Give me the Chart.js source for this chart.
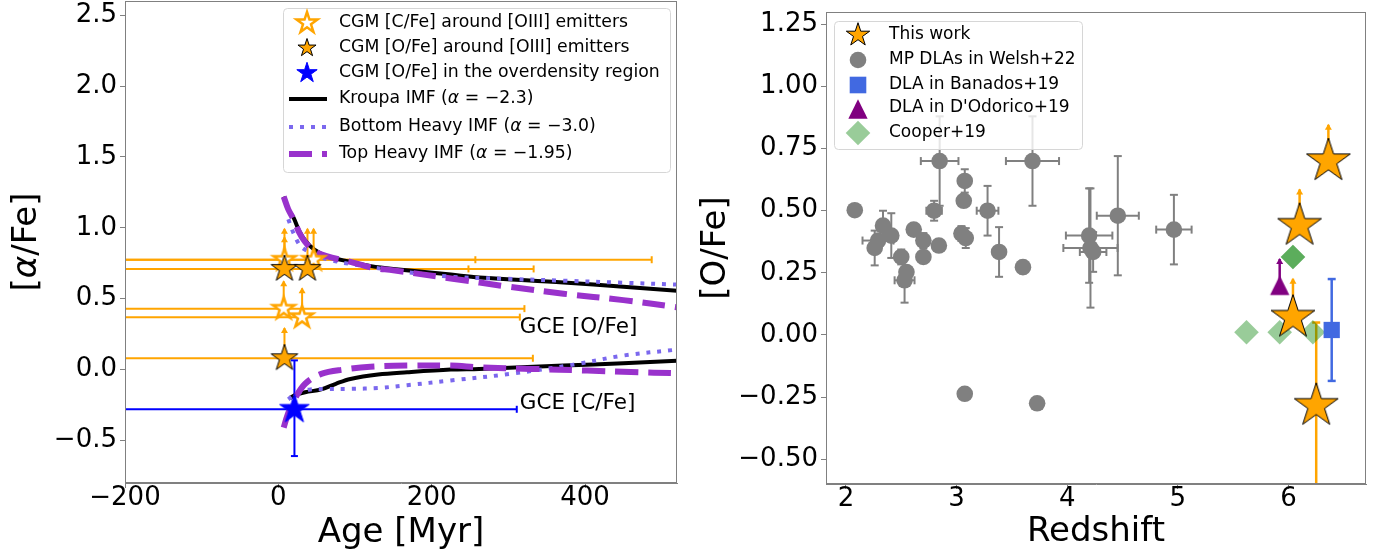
<!DOCTYPE html>
<html><head><meta charset="utf-8">
<script src="https://cdn.jsdelivr.net/npm/chart.js@4.4.1/dist/chart.umd.min.js"></script>
<style>
html,body{margin:0;padding:0;background:#fff;overflow:hidden}
#wrap{position:relative;width:1383px;height:554px;background:#fff}
canvas{position:absolute;top:0}
#c1{left:0}
#c2{left:690px}
</style></head><body>
<div id="wrap">
<canvas id="c1" width="690" height="554" style="width:690px;height:554px"></canvas>
<canvas id="c2" width="693" height="554" style="width:693px;height:554px"></canvas>
</div>
<script>
// ================= LEFT PANEL DATA =================
const ageTicks = [-200, 0, 200, 400];
const alphaFeTicks = [-0.5, 0.0, 0.5, 1.0, 1.5, 2.0, 2.5];

// GCE model tracks, [O/Fe]
const kroupaOAge = [7, 13, 20, 27, 35, 46, 63, 94, 121, 150, 225, 262, 372, 450, 520];
const kroupaOFe  = [1.22, 1.13, 1.07, 0.98, 0.91, 0.85, 0.80, 0.76, 0.73, 0.71, 0.67, 0.65, 0.615, 0.585, 0.556];
const bottomOAge = [13, 20, 29, 40, 51, 70, 94, 150, 225, 300, 372, 450, 520];
const bottomOFe  = [1.06, 0.96, 0.87, 0.83, 0.80, 0.77, 0.745, 0.70, 0.655, 0.64, 0.627, 0.613, 0.60];
const topOAge = [7, 13, 20, 27, 35, 46, 63, 94, 121, 150, 225, 300, 372, 450, 520];
const topOFe  = [1.22, 1.13, 1.06, 0.97, 0.90, 0.84, 0.80, 0.76, 0.72, 0.70, 0.643, 0.585, 0.535, 0.49, 0.44];
// GCE model tracks, [C/Fe]
const kroupaCAge = [15, 22, 35, 56, 75, 94, 130, 168, 225, 262, 372, 450, 520];
const kroupaCFe  = [-0.20, -0.18, -0.16, -0.14, -0.10, -0.066, -0.035, -0.019, 0.0, 0.005, 0.028, 0.045, 0.063];
const bottomCAge = [13, 20, 30, 42, 60, 94, 130, 168, 225, 303, 385, 450, 520];
const bottomCFe  = [-0.21, -0.18, -0.155, -0.14, -0.137, -0.136, -0.13, -0.11, -0.077, -0.03, 0.035, 0.099, 0.141];
const topCAge = [7, 12, 20, 35, 56, 85, 120, 168, 225, 262, 330, 403, 460, 520];
const topCFe  = [-0.41, -0.32, -0.22, -0.10, -0.03, 0.0, 0.02, 0.028, 0.028, 0.016, 0.005, -0.007, -0.017, -0.026];

// CGM [C/Fe] around [OIII] emitters (open stars, lower limits)
const cgmCAge      = [8, 46, 7, 31];
const cgmCFe       = [0.775, 0.775, 0.43, 0.37];
const cgmCAgeErrLo = [400, 400, 400, 400];
const cgmCAgeErrHi = [479, 211, 314, 284];
const cgmCLimit    = [0.165, 0.225, 0.20, 0.21];
// CGM [O/Fe] around [OIII] emitters (filled stars, lower limits)
const cgmOAge      = [8, 38, 8];
const cgmOFe       = [0.71, 0.71, 0.08];
const cgmOAgeErrLo = [400, 400, 400];
const cgmOAgeErrHi = [325, 210, 324];
const cgmOLimit    = [0.29, 0.29, 0.22];
// CGM [O/Fe] in the overdensity region
const odAge = [21];
const odOFe = [-0.28];
const odAgeErrLo = [400];
const odAgeErrHi = [290];
const odOFeErrUp = [0.345];
const odOFeErrDn = [0.33];
// annotations
const gceLabels   = ['GCE [O/Fe]', 'GCE [C/Fe]'];
const gceLabelAge = [315, 315];
const gceLabelVal = [0.255, -0.28];

// ================= RIGHT PANEL DATA =================
const zTicks = [2, 3, 4, 5, 6];
const oFeTicks = [-0.5, -0.25, 0.0, 0.25, 0.5, 0.75, 1.0, 1.25];

const thisWorkZ = [6.36, 6.10, 6.04, 6.25];
const thisWorkOFe = [0.70, 0.44, 0.07, -0.285];
const thisWorkLimit = [0.15, 0.15, 0.16, 0];
const thisWorkErrUp = [0, 0, 0, 0.335];
const thisWorkErrDn = [0, 0, 0, 0.6];

const welshZ   = [2.08, 2.847, 3.686, 3.074, 3.065, 3.28, 2.797, 2.335, 2.41, 2.29, 2.26, 2.613, 2.70, 2.84, 3.044, 3.083, 2.70, 2.50, 2.547, 2.53, 3.384, 3.60, 3.074, 3.728, 4.198, 4.21, 4.234, 4.457, 4.964];
const welshOFe = [0.502, 0.70, 0.70, 0.62, 0.54, 0.50, 0.50, 0.44, 0.40, 0.38, 0.35, 0.424, 0.38, 0.36, 0.408, 0.39, 0.314, 0.314, 0.253, 0.22, 0.334, 0.273, -0.237, -0.275, 0.40, 0.35, 0.334, 0.48, 0.424];
const welshZErr   = [0, 0.17, 0.24, 0, 0, 0.098, 0.07, 0, 0, 0.14, 0, 0, 0, 0, 0, 0, 0, 0, 0, 0.09, 0.05, 0, 0, 0, 0.21, 0.245, 0.12, 0.19, 0.16];
const welshOFeErr = [0, 0.18, 0.18, 0.047, 0, 0.10, 0.04, 0.06, 0.09, 0, 0.07, 0, 0.03, 0, 0.03, 0.04, 0.025, 0.03, 0, 0.09, 0.10, 0.025, 0, 0, 0.19, 0.24, 0.08, 0.24, 0.14];

const banadosZ = [6.39];
const banadosOFe = [0.02];
const banadosErr = [0.205];

const dodoricoZ = [5.92];
const dodoricoOFe = [0.20];
const dodoricoLimit = [0.11];

const cooperZ   = [5.62, 5.92, 6.22, 6.04, 6.04];
const cooperOFe = [0.011, 0.011, 0.011, 0.314, 0.314];

// ================= HELPERS =================
const FONT = "'DejaVu Sans', 'Liberation Sans', sans-serif";
const ORANGE = '#ffa500';
const AXC = '#808080';

function fmt(v, d) { return (v < 0 ? '\u2212' : '') + Math.abs(v).toFixed(d); }
function pts(xs, ys) { return xs.map((x, i) => ({ x: x, y: ys[i] })); }

function starPath(g, cx, cy, R) {
  const r = R * 0.381966;
  g.beginPath();
  for (let i = 0; i < 10; i++) {
    const a = -Math.PI / 2 + i * Math.PI / 5;
    const rr = (i % 2) ? r : R;
    g.lineTo(cx + rr * Math.cos(a), cy + rr * Math.sin(a));
  }
  g.closePath();
}
function starCanvas(R, fill, stroke, lw) {
  const pad = Math.ceil(lw) + 2;
  const s = 2 * Math.ceil(R + pad);
  const c = document.createElement('canvas');
  c.width = s; c.height = s;
  const g = c.getContext('2d');
  starPath(g, s / 2, s / 2, R);
  g.fillStyle = fill; g.fill();
  if (lw > 0) { g.lineWidth = lw; g.strokeStyle = stroke; g.lineJoin = 'miter'; g.stroke(); }
  return c;
}
function triPath(g, cx, cy, w) {
  const h = w / 2;
  g.beginPath();
  g.moveTo(cx, cy - h); g.lineTo(cx - h, cy + h); g.lineTo(cx + h, cy + h); g.closePath();
}
function triCanvas(w, fill) {
  const s = 2 * Math.ceil(w / 2 + 2);
  const c = document.createElement('canvas');
  c.width = s; c.height = s;
  const g = c.getContext('2d');
  triPath(g, s / 2, s / 2, w);
  g.fillStyle = fill; g.fill();
  return c;
}

const openStarImg   = starCanvas(11.5, '#ffffff', ORANGE, 2.5);
const filledStarImg = starCanvas(14, ORANGE, '#000000', 1);
const blueStarImg   = starCanvas(15.5, '#0000ff', '#0000ff', 1);
const bigStarImg    = starCanvas(23, ORANGE, '#000000', 1);
const triImg        = triCanvas(19.3, '#800080');

function hseg(ctx, x1, x2, y) { ctx.beginPath(); ctx.moveTo(x1, y); ctx.lineTo(x2, y); ctx.stroke(); }
function vseg(ctx, x, y1, y2) { ctx.beginPath(); ctx.moveTo(x, y1); ctx.lineTo(x, y2); ctx.stroke(); }
function arrowUp(ctx, x, y0, yTip, color, lw, hw, hh) {
  ctx.strokeStyle = color; ctx.fillStyle = color; ctx.lineWidth = lw;
  vseg(ctx, x, y0, yTip + 1);
  ctx.beginPath(); ctx.moveTo(x, yTip); ctx.lineTo(x - hw, yTip + hh); ctx.lineTo(x + hw, yTip + hh); ctx.closePath(); ctx.fill();
}
function clipArea(chart) {
  const a = chart.chartArea, ctx = chart.ctx;
  ctx.beginPath(); ctx.rect(a.left, a.top, a.right - a.left, a.bottom - a.top); ctx.clip();
}
function richText(ctx, x, y, parts, size, align) {
  let w = 0;
  const ws = parts.map(p => { ctx.font = (p[1] ? 'italic ' : '') + size + 'px ' + FONT; const m = ctx.measureText(p[0]).width; w += m; return m; });
  let cx = align === 'center' ? x - w / 2 : x;
  parts.forEach((p, i) => { ctx.font = (p[1] ? 'italic ' : '') + size + 'px ' + FONT; ctx.fillText(p[0], cx, y); cx += ws[i]; });
}
function legendBox(ctx, x1, y1, x2, y2) {
  const r = 4;
  ctx.beginPath();
  ctx.moveTo(x1 + r, y1); ctx.lineTo(x2 - r, y1); ctx.arcTo(x2, y1, x2, y1 + r, r);
  ctx.lineTo(x2, y2 - r); ctx.arcTo(x2, y2, x2 - r, y2, r);
  ctx.lineTo(x1 + r, y2); ctx.arcTo(x1, y2, x1, y2 - r, r);
  ctx.lineTo(x1, y1 + r); ctx.arcTo(x1, y1, x1 + r, y1, r); ctx.closePath();
  ctx.fillStyle = 'rgba(255,255,255,0.8)'; ctx.fill();
  ctx.strokeStyle = '#d6d6d6'; ctx.lineWidth = 1; ctx.stroke();
}
function frame(chart) {
  const a = chart.chartArea, ctx = chart.ctx;
  ctx.save(); ctx.strokeStyle = AXC; ctx.lineWidth = 1;
  ctx.strokeRect(Math.round(a.left) + 0.5, Math.round(a.top) + 0.5, Math.round(a.right - a.left) - 1, Math.round(a.bottom - a.top) - 1);
  ctx.restore();
}
function axisCommon(ticksArr, dec, fit, isX) {
  return {
    type: 'linear',
    afterBuildTicks: s => { s.ticks = ticksArr.map(v => ({ value: v })); },
    ticks: { font: { family: FONT, size: 26, lineHeight: isX ? 0.8 : 1.2 }, color: '#000', padding: isX ? 0 : 3, autoSkip: false, maxRotation: 0, callback: v => fmt(v, dec) },
    grid: { drawOnChartArea: false, drawTicks: true, tickLength: 5, tickColor: AXC, tickWidth: 1 },
    border: { color: AXC, width: 1 },
    afterFit: s => { fit(s); s.paddingTop = 0; s.paddingBottom = 0; s.paddingLeft = 0; s.paddingRight = 0; }
  };
}

// ================= LEFT CHART =================
const leftPlugin = {
  id: 'leftExtras',
  beforeDatasetsDraw(chart) {
    const ctx = chart.ctx, X = chart.scales.x, Y = chart.scales.y;
    ctx.save(); clipArea(chart);
    ctx.lineCap = 'butt';
    const groups = [
      [cgmCAge, cgmCFe, cgmCAgeErrLo, cgmCAgeErrHi, cgmCLimit],
      [cgmOAge, cgmOFe, cgmOAgeErrLo, cgmOAgeErrHi, cgmOLimit]
    ];
    groups.forEach(gp => {
      const [ax, vy, lo, hi, lim] = gp;
      for (let i = 0; i < ax.length; i++) {
        const y = Y.getPixelForValue(vy[i]);
        const x1 = X.getPixelForValue(ax[i] - lo[i]), x2 = X.getPixelForValue(ax[i] + hi[i]);
        ctx.strokeStyle = ORANGE; ctx.lineWidth = 2;
        hseg(ctx, x1, x2, y); vseg(ctx, x1, y - 3.5, y + 3.5); vseg(ctx, x2, y - 3.5, y + 3.5);
        const xc = X.getPixelForValue(ax[i]);
        arrowUp(ctx, xc, y, Y.getPixelForValue(vy[i] + lim[i]), ORANGE, 2, 3.5, 6);
      }
    });
    for (let i = 0; i < odAge.length; i++) {
      ctx.strokeStyle = '#0000ff'; ctx.lineWidth = 2;
      const y = Y.getPixelForValue(odOFe[i]), xc = X.getPixelForValue(odAge[i]);
      const x1 = X.getPixelForValue(odAge[i] - odAgeErrLo[i]), x2 = X.getPixelForValue(odAge[i] + odAgeErrHi[i]);
      hseg(ctx, x1, x2, y); vseg(ctx, x2, y - 3.5, y + 3.5);
      const y1 = Y.getPixelForValue(odOFe[i] + odOFeErrUp[i]), y2 = Y.getPixelForValue(odOFe[i] - odOFeErrDn[i]);
      vseg(ctx, xc, y1, y2); hseg(ctx, xc - 3.5, xc + 3.5, y1); hseg(ctx, xc - 3.5, xc + 3.5, y2);
    }
    ctx.restore();
  },
  afterDatasetsDraw(chart) {
    const ctx = chart.ctx, X = chart.scales.x, Y = chart.scales.y;
    ctx.save();
    ctx.fillStyle = '#000'; ctx.textBaseline = 'alphabetic'; ctx.textAlign = 'left';
    ctx.font = '21.5px ' + FONT;
    gceLabels.forEach((t, i) => ctx.fillText(t, X.getPixelForValue(gceLabelAge[i]), Y.getPixelForValue(gceLabelVal[i])));
    ctx.save();
    ctx.translate(27, (chart.chartArea.top + chart.chartArea.bottom) / 2);
    ctx.rotate(-Math.PI / 2);
    ctx.textBaseline = 'middle';
    richText(ctx, 0, 0, [['[', false], ['\u03b1', true], ['/Fe]', false]], 34, 'center');
    ctx.restore();
    legendBox(ctx, 283.5, 8.5, 670.5, 172.5);
    const mx = 307, tx = 339, ys = [23, 48, 73, 99, 127, 154];
    const l1 = starCanvas(11, '#ffffff', ORANGE, 2.5), l2 = starCanvas(9.5, ORANGE, '#000', 1), l3 = starCanvas(10.7, '#0000ff', '#0000ff', 1);
    [l1, l2, l3].forEach((im, i) => ctx.drawImage(im, mx - im.width / 2, ys[i] - im.height / 2));
    ctx.lineCap = 'butt';
    ctx.strokeStyle = '#000'; ctx.lineWidth = 4; ctx.setLineDash([]); hseg(ctx, 289, 327, ys[3]);
    ctx.strokeStyle = '#7b68ee'; ctx.lineWidth = 4; ctx.setLineDash([4, 7]); hseg(ctx, 289, 327, ys[4]);
    ctx.strokeStyle = '#9932cc'; ctx.lineWidth = 6; ctx.setLineDash([23, 10]); hseg(ctx, 289, 327, ys[5]);
    ctx.setLineDash([]);
    ctx.fillStyle = '#000'; ctx.textBaseline = 'middle'; ctx.textAlign = 'left';
    const S = 17.3;
    richText(ctx, tx, ys[0], [['CGM [C/Fe] around [OIII] emitters', false]], S);
    richText(ctx, tx, ys[1], [['CGM [O/Fe] around [OIII] emitters', false]], S);
    richText(ctx, tx, ys[2], [['CGM [O/Fe] in the overdensity region', false]], S);
    richText(ctx, tx, ys[3], [['Kroupa IMF (', false], ['\u03b1', true], [' = \u22122.3)', false]], S);
    richText(ctx, tx, ys[4], [['Bottom Heavy IMF (', false], ['\u03b1', true], [' = \u22123.0)', false]], S);
    richText(ctx, tx, ys[5], [['Top Heavy IMF (', false], ['\u03b1', true], [' = \u22121.95)', false]], S);
    ctx.restore();
    frame(chart);
  }
};

const lineDs = (xs, ys, color, lw, dash, order) => ({
  type: 'scatter', data: pts(xs, ys), showLine: true, borderColor: color, borderWidth: lw,
  borderDash: dash, pointRadius: 0, fill: false, tension: 0.35, order: order, borderCapStyle: 'butt'
});

new Chart(document.getElementById('c1'), {
  type: 'scatter',
  data: {
    datasets: [
      lineDs(kroupaOAge, kroupaOFe, '#000000', 4, [], 12),
      lineDs(bottomOAge, bottomOFe, '#7b68ee', 4, [4, 7], 11),
      lineDs(topOAge, topOFe, '#9932cc', 6, [23, 10], 10),
      lineDs(kroupaCAge, kroupaCFe, '#000000', 4, [], 12),
      lineDs(bottomCAge, bottomCFe, '#7b68ee', 4, [4, 7], 11),
      lineDs(topCAge, topCFe, '#9932cc', 6, [23, 10], 10),
      { data: pts(cgmCAge, cgmCFe), pointStyle: openStarImg, pointRadius: 12, order: 3 },
      { data: pts(cgmOAge, cgmOFe), pointStyle: filledStarImg, pointRadius: 14, order: 2 },
      { data: pts(odAge, odOFe), pointStyle: blueStarImg, pointRadius: 15, order: 1 }
    ]
  },
  options: {
    responsive: false, animation: false, events: [],
    layout: { autoPadding: false, padding: { left: 0, right: 13, top: 1, bottom: 0 } },
    plugins: { legend: { display: false }, tooltip: { enabled: false } },
    scales: {
      x: Object.assign(axisCommon(ageTicks, 0, s => { s.height = 71; }, true), {
        min: -200, max: 520,
        title: { display: true, text: 'Age [Myr]', color: '#000', font: { family: FONT, size: 34 }, padding: { top: 0, bottom: 0 } }
      }),
      y: Object.assign(axisCommon(alphaFeTicks, 1, s => { s.width = 125; }, false), {
        min: -0.8, max: 2.6
      })
    }
  },
  plugins: [leftPlugin]
});

// ================= RIGHT CHART =================
const rightPlugin = {
  id: 'rightExtras',
  beforeDatasetsDraw(chart) {
    const ctx = chart.ctx, X = chart.scales.x, Y = chart.scales.y;
    ctx.save(); clipArea(chart); ctx.lineCap = 'butt';
    ctx.strokeStyle = '#808080'; ctx.lineWidth = 2;
    for (let i = 0; i < welshZ.length; i++) {
      const xc = X.getPixelForValue(welshZ[i]), yc = Y.getPixelForValue(welshOFe[i]);
      if (welshZErr[i] > 0) {
        const x1 = X.getPixelForValue(welshZ[i] - welshZErr[i]), x2 = X.getPixelForValue(welshZ[i] + welshZErr[i]);
        hseg(ctx, x1, x2, yc); vseg(ctx, x1, yc - 4, yc + 4); vseg(ctx, x2, yc - 4, yc + 4);
      }
      if (welshOFeErr[i] > 0) {
        const y1 = Y.getPixelForValue(welshOFe[i] + welshOFeErr[i]), y2 = Y.getPixelForValue(welshOFe[i] - welshOFeErr[i]);
        vseg(ctx, xc, y1, y2); hseg(ctx, xc - 4, xc + 4, y1); hseg(ctx, xc - 4, xc + 4, y2);
      }
    }
    ctx.strokeStyle = '#4169e1'; ctx.lineWidth = 2.5;
    for (let i = 0; i < banadosZ.length; i++) {
      const xc = X.getPixelForValue(banadosZ[i]);
      const y1 = Y.getPixelForValue(banadosOFe[i] + banadosErr[i]), y2 = Y.getPixelForValue(banadosOFe[i] - banadosErr[i]);
      vseg(ctx, xc, y1, y2); hseg(ctx, xc - 4, xc + 4, y1); hseg(ctx, xc - 4, xc + 4, y2);
    }
    for (let i = 0; i < dodoricoZ.length; i++) {
      arrowUp(ctx, X.getPixelForValue(dodoricoZ[i]), Y.getPixelForValue(dodoricoOFe[i]), Y.getPixelForValue(dodoricoOFe[i] + dodoricoLimit[i]), '#800080', 2.5, 3.5, 6);
    }
    for (let i = 0; i < thisWorkZ.length; i++) {
      const xc = X.getPixelForValue(thisWorkZ[i]), yc = Y.getPixelForValue(thisWorkOFe[i]);
      if (thisWorkLimit[i] > 0) arrowUp(ctx, xc, yc, Y.getPixelForValue(thisWorkOFe[i] + thisWorkLimit[i]), ORANGE, 2.5, 3.5, 6);
      if (thisWorkErrUp[i] > 0 || thisWorkErrDn[i] > 0) {
        ctx.strokeStyle = ORANGE; ctx.lineWidth = 2.5;
        const y1 = Y.getPixelForValue(thisWorkOFe[i] + thisWorkErrUp[i]), y2 = Y.getPixelForValue(thisWorkOFe[i] - thisWorkErrDn[i]);
        vseg(ctx, xc, y1, y2); hseg(ctx, xc - 4, xc + 4, y1);
      }
    }
    ctx.restore();
  },
  afterDatasetsDraw(chart) {
    const ctx = chart.ctx;
    ctx.save();
    legendBox(ctx, 144.5, 21.5, 392.5, 149.5);
    const mx = 168, tx = 199, ys = [35, 60, 85, 108, 133];
    const s1 = starCanvas(12.3, ORANGE, '#000', 1);
    ctx.drawImage(s1, mx - s1.width / 2, ys[0] - s1.height / 2);
    ctx.fillStyle = '#808080'; ctx.beginPath(); ctx.arc(mx, ys[1], 8.3, 0, 2 * Math.PI); ctx.fill();
    ctx.fillStyle = '#4169e1'; ctx.fillRect(mx - 8.3, ys[2] - 8.3, 16.6, 16.6);
    triPath(ctx, mx, ys[3] + 1, 19.3); ctx.fillStyle = '#800080'; ctx.fill();
    ctx.beginPath(); ctx.moveTo(mx, ys[4] - 12.3); ctx.lineTo(mx + 12.3, ys[4]); ctx.lineTo(mx, ys[4] + 12.3); ctx.lineTo(mx - 12.3, ys[4]); ctx.closePath();
    ctx.fillStyle = 'rgba(0,128,0,0.4)'; ctx.fill();
    ctx.fillStyle = '#000'; ctx.textBaseline = 'middle'; ctx.textAlign = 'left'; ctx.font = '17px ' + FONT;
    ['This work', 'MP DLAs in Welsh+22', 'DLA in Banados+19', "DLA in D'Odorico+19", 'Cooper+19'].forEach((t, i) => ctx.fillText(t, tx, ys[i]));
    ctx.restore();
    frame(chart);
  }
};

new Chart(document.getElementById('c2'), {
  type: 'scatter',
  data: {
    datasets: [
      { data: pts(welshZ, welshOFe), pointStyle: 'circle', pointRadius: 8.3, backgroundColor: '#808080', borderWidth: 0, order: 5 },
      { data: pts(cooperZ, cooperOFe), pointStyle: 'rectRot', pointRadius: 12.3, backgroundColor: 'rgba(0,128,0,0.4)', borderWidth: 0, order: 4 },
      { data: pts(banadosZ, banadosOFe), pointStyle: 'rect', pointRadius: 11.5, backgroundColor: '#4169e1', borderWidth: 0, order: 3 },
      { data: pts(dodoricoZ, dodoricoOFe), pointStyle: triImg, pointRadius: 10, order: 3 },
      { data: pts(thisWorkZ, thisWorkOFe), pointStyle: bigStarImg, pointRadius: 23, order: 0 }
    ]
  },
  options: {
    responsive: false, animation: false, events: [],
    layout: { autoPadding: false, padding: { left: 0, right: 17, top: 12, bottom: 0 } },
    plugins: { legend: { display: false }, tooltip: { enabled: false } },
    scales: {
      x: Object.assign(axisCommon(zTicks, 0, s => { s.height = 70; }, true), {
        min: 1.82, max: 6.70,
        title: { display: true, text: 'Redshift', color: '#000', font: { family: FONT, size: 34 }, padding: { top: 0, bottom: 1 } }
      }),
      y: Object.assign(axisCommon(oFeTicks, 2, s => { s.width = 136; }, false), {
        min: -0.60, max: 1.30,
        title: { display: true, text: '[O/Fe]', color: '#000', font: { family: FONT, size: 34 }, padding: { top: 6, bottom: 0 } }
      })
    }
  },
  plugins: [rightPlugin]
});
</script>
</body></html>
